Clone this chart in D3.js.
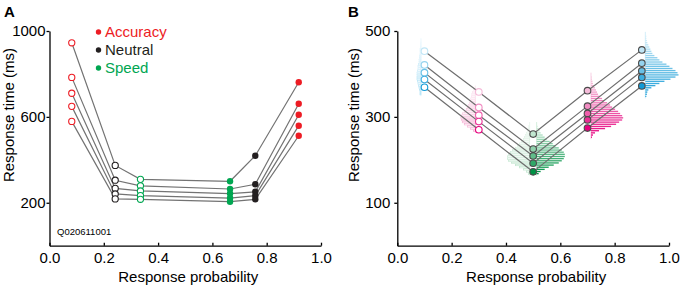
<!DOCTYPE html>
<html>
<head>
<meta charset="utf-8">
<script src="https://cdn.jsdelivr.net/npm/d3@7"></script>
<style>
  body { margin: 0; background: #fff; }
  svg { display: block; font-family: "Liberation Sans", Arial, Helvetica, sans-serif; }
</style>
</head>
<body>
<svg id="fig" width="680" height="289"></svg>
<script>
// ---- panel A data: quantile RTs (ms) at each response probability ----
const probA = [0.082, 0.242, 0.335, 0.665, 0.758, 0.918];
const condA = ["Accuracy", "Neutral", "Speed", "Speed", "Neutral", "Accuracy"];
const filledA = [false, false, false, true, true, true];
const q90A = [945, 374, 309, 300, 419, 761];
const q70A = [784, 305, 279, 264, 286, 661];
const q50A = [710, 267, 255, 243, 251, 610];
const q30A = [649, 241, 233, 222, 233, 559];
const q10A = [579, 218, 216, 205, 216, 512];
const legendA = ["Accuracy", "Neutral", "Speed"];
const ticksYA = [200, 600, 1000];

// ---- panel B data ----
const probB = [0.1, 0.3, 0.5, 0.7, 0.9];
const q90B = [453, 358, 260, 361, 456];
const q70B = [421, 322, 225, 325, 425];
const q50B = [403, 304, 209, 308, 407];
const q30B = [387, 289, 192, 293, 392];
const q10B = [369, 270, 172, 274, 372];
const ticksYB = [100, 300, 500];
const ticksX = [0, 0.2, 0.4, 0.6, 0.8, 1.0];

// histograms: 5 ms bins, counts listed from the lowest bin up
const binMs = 5;
const hist01 = [1, 1, 1.5, 2, 2.5, 3, 3.5, 4, 4, 4, 4, 3.5, 3, 3, 2.5, 2, 2, 1.5, 1.5, 1, 1, 1, 0.5, 0.5, 0.5];
const hist03 = [2, 5, 8, 11, 13, 14, 14.5, 14, 13, 11, 9, 8, 7, 6, 5, 4.5, 4, 3.5, 3, 2];
const hist05L = [1, 3, 6, 10, 14, 18, 21, 22, 22, 21, 19, 17, 14, 12, 10, 8, 6, 5, 4, 3, 2, 1.5, 1];
const hist05R = [2, 4, 8, 12, 17, 22, 25, 27, 28, 28, 27, 25, 22, 19, 16, 13, 10, 8, 6, 4, 3, 2, 1];
const hist07 = [1, 2, 4, 8, 14, 20, 25, 28, 31, 32, 31, 29, 27, 24, 21, 19, 16, 13, 11, 9, 7, 6, 5, 4, 3, 2, 1.5, 1, 1];
const hist09 = [1, 1.5, 2, 3, 6, 10, 14, 19, 25, 30, 33, 32, 30, 27, 24, 21, 17, 14, 12, 9, 7, 6, 5, 4, 3, 2, 1.5, 1, 1];

const colA = { Accuracy: "#ed1c24", Neutral: "#231f20", Speed: "#00a651" };
const blue = ["#d4eef9", "#129ad6"], pink = ["#f7d0e3", "#e6007e"], green = ["#d5efde", "#009245"];

const histsB = [
  { p: 0.1, lo: 350, counts: hist01, side: -1, filled: false, col: ["#eaf7fd", "#a5ddf4"] },
  { p: 0.3, lo: 265, counts: hist03, side: -1, filled: false, col: ["#fce8f2", "#f4a3cc"] },
  { p: 0.5, lo: 165, counts: hist05L, side: -1, filled: false, col: ["#eaf6ee", "#b3e0c3"] },
  { p: 0.5, lo: 165, counts: hist05R, side: 1, filled: true, col: green },
  { p: 0.7, lo: 250, counts: hist07, side: 1, filled: true, col: pink },
  { p: 0.9, lo: 345, counts: hist09, side: 1, filled: true, col: blue }
];
const ptStyleB = [
  { open: true, col: blue }, { open: true, col: pink },
  { open: false, col: green }, { open: false, col: pink }, { open: false, col: blue }
];
const histUnit = 0.0037;   // x-axis units per count

const svg = d3.select("#fig");

function axes(g, x, y, yTicks, yPad) {
  g.append("g")
    .attr("transform", `translate(0,${y.range()[0]})`)
    .call(d3.axisBottom(x).tickValues(ticksX).tickFormat(d3.format(".1f"))
      .tickSizeInner(-3).tickSizeOuter(0).tickPadding(7))
    .call(a => a.selectAll("text").style("font-size", "15px").attr("fill", "#000"));
  g.append("g")
    .attr("transform", `translate(${x.range()[0]},0)`)
    .call(d3.axisLeft(y).tickValues(yTicks).tickFormat(d3.format("d"))
      .tickSize(3).tickSizeOuter(0).tickPadding(yPad))
    .call(a => a.selectAll("text").style("font-size", "15px").attr("fill", "#000"));
  g.selectAll(".domain, .tick line").attr("stroke", "#000").attr("stroke-width", 1.3);
  g.append("text")
    .attr("x", (x.range()[0] + x.range()[1]) / 2 + 3).attr("y", 282)
    .attr("text-anchor", "middle").style("font-size", "15px")
    .text("Response probability");
}

// ================= Panel A =================
{
  const x = d3.scaleLinear().domain([0, 1]).range([49.5, 321]);
  const y = d3.scaleLinear().domain([0, 1000]).range([245.7, 31]);
  const g = svg.append("g");
  axes(g, x, y, ticksYA, 1);

  g.append("text").attr("transform", "translate(13.5,115) rotate(-90)")
    .attr("text-anchor", "middle").style("font-size", "15px").text("Response time (ms)");
  g.append("text").attr("x", 4).attr("y", 16.5).style("font-size", "15px")
    .style("font-weight", "bold").text("A");
  g.append("text").attr("x", 57).attr("y", 234.5).style("font-size", "9.5px").text("Q020611001");

  const lines = [q90A, q70A, q50A, q30A, q10A];
  const line = d3.line().x((d, i) => x(probA[i])).y(d => y(d));
  g.selectAll(".qa").data(lines).enter().append("path")
    .attr("d", line).attr("fill", "none").attr("stroke", "#737373").attr("stroke-width", 1.2);

  lines.forEach(rts => {
    g.selectAll(null).data(rts).enter().append("circle")
      .attr("cx", (d, i) => x(probA[i])).attr("cy", d => y(d))
      .attr("r", (d, i) => filledA[i] ? 3.2 : 3.1)
      .attr("fill", (d, i) => filledA[i] ? colA[condA[i]] : "#fff")
      .attr("stroke", (d, i) => colA[condA[i]])
      .attr("stroke-width", (d, i) => filledA[i] ? 0 : 1.1);
  });

  const leg = g.selectAll(".leg").data(legendA).enter().append("g")
    .attr("transform", (d, i) => `translate(98.5,${32 + i * 18})`);
  leg.append("circle").attr("r", 2.7).attr("fill", d => colA[d]);
  leg.append("text").attr("x", 6.5).attr("y", 5.3).style("font-size", "15px")
    .attr("fill", d => colA[d]).text(d => d);
}

// ================= Panel B =================
{
  const x = d3.scaleLinear().domain([0, 1]).range([397.3, 669]);
  const y = d3.scaleLinear().domain([0, 500]).range([245.7, 31]);
  const g = svg.append("g");

  // histograms
  histsB.forEach(h => {
    const base = x(h.p) + h.side * 3.5;
    const n = h.counts.length;
    const col = d3.interpolateRgb(h.col[1], h.col[0]);
    const hb = g.append("g");
    hb.append("line")
      .attr("x1", base).attr("x2", base)
      .attr("y1", y(h.lo - 2)).attr("y2", y(h.lo + n * binMs + 8))
      .attr("stroke", h.col[0]).attr("stroke-width", 1);
    hb.selectAll("rect").data(h.counts).enter().append("rect")
      .attr("x", d => h.side > 0 ? base : base - (x(h.p + d * histUnit) - x(h.p)))
      .attr("width", d => x(h.p + d * histUnit) - x(h.p))
      .attr("y", (d, i) => y(h.lo + (i + 1) * binMs) + 0.3)
      .attr("height", (d, i) => (y(h.lo + i * binMs) - y(h.lo + (i + 1) * binMs)) * 0.62)
      .attr("fill", (d, i) => h.filled ? col(i / (n - 1)) : "none")
      .attr("stroke", (d, i) => h.filled ? "none" : col(i / (n - 1)))
      .attr("stroke-width", 0.6);
  });

  axes(g, x, y, ticksYB, 4);
  g.append("text").attr("transform", "translate(359,115) rotate(-90)")
    .attr("text-anchor", "middle").style("font-size", "15px").text("Response time (ms)");
  g.append("text").attr("x", 348).attr("y", 16.5).style("font-size", "15px")
    .style("font-weight", "bold").text("B");

  const lines = [q90B, q70B, q50B, q30B, q10B];
  const line = d3.line().x((d, i) => x(probB[i])).y(d => y(d));
  g.selectAll(".qb").data(lines).enter().append("path")
    .attr("d", line).attr("fill", "none").attr("stroke", "#6e6e6e").attr("stroke-width", 1.2);

  lines.forEach((rts, qi) => {
    const t = 0.1 + qi * 0.225;
    g.selectAll(null).data(rts).enter().append("circle")
      .attr("cx", (d, i) => x(probB[i])).attr("cy", d => y(d))
      .attr("r", 3.3)
      .attr("fill", (d, i) => ptStyleB[i].open ? "#fff"
        : d3.interpolateRgb(ptStyleB[i].col[0], ptStyleB[i].col[1])(t))
      .attr("stroke", (d, i) => ptStyleB[i].open
        ? d3.interpolateRgb(ptStyleB[i].col[0], ptStyleB[i].col[1])(t) : "#4a4a4a")
      .attr("stroke-width", 1.1);
  });
}
</script>
</body>
</html>
